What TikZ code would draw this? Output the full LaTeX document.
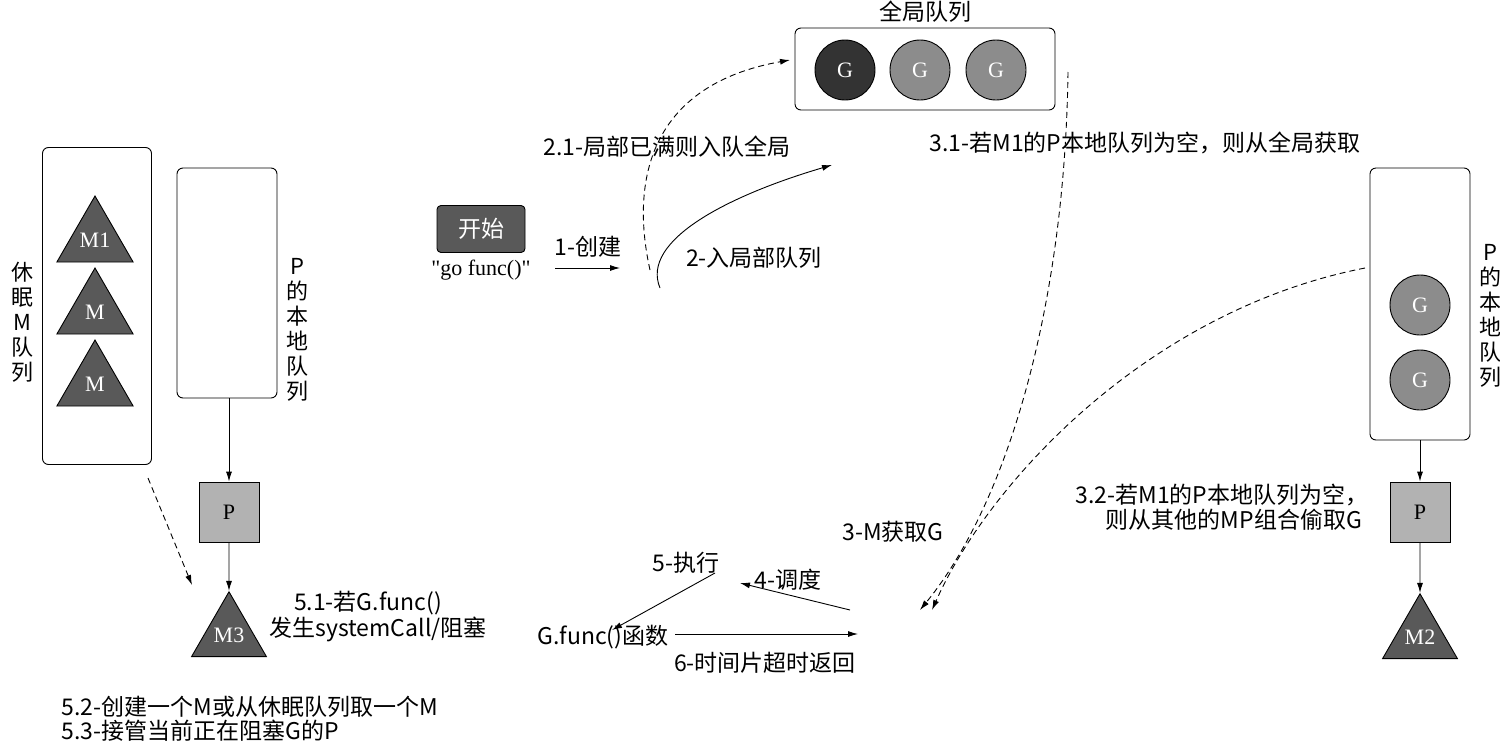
\documentclass[tikz,border=0pt]{standalone}
\usepackage{fontspec}
\setmainfont{Liberation Serif}
\newfontfamily\cjk{Noto Sans CJK SC}
\usetikzlibrary{shapes.geometric,arrows.meta}
\begin{document}
\begin{tikzpicture}[x=1pt,y=-1pt,
  every node/.style={font=\fontsize{22}{25}\selectfont},
  cj/.style={font=\fontsize{23}{25}\selectfont\cjk},
  vl/.style={font=\fontsize{22}{25}\selectfont\cjk,align=center,text width=22pt},
  box/.style={draw,rounded corners=6pt,line width=0.9pt},
  gc/.style={circle,draw,line width=0.9pt,fill=black!45,text=white,minimum size=60pt,inner sep=0pt},
  tri/.style={regular polygon,regular polygon sides=3,draw,line width=0.9pt,fill=black!65,minimum size=88pt,inner sep=0pt,text=white},
  psq/.style={draw,line width=0.9pt,fill=black!30,minimum size=60pt,inner sep=0pt},
  arr/.style={-{Latex[length=10pt,width=6pt]},line width=0.9pt},
  darr/.style={arr,dashed,dash pattern=on 6pt off 4pt}]
\useasboundingbox (0,0) rectangle (1500,753);
% global queue
\node[box,minimum width=260pt,minimum height=82pt] (gq) at (925,69) {};
\node[cj] (gql) at (925,12) {全局队列};
\node[gc,fill=black!80] (g1) at (845,70) {G};
\node[gc] (g2) at (920,70) {G};
\node[gc] (g3) at (996,70) {G};
% left sleeping M
\node[box,minimum width=109pt,minimum height=317pt] (mq) at (97,306) {};
\node[tri] (m1) at (95,240) {M1};
\node[tri] (m2) at (95,312) {M};
\node[tri] (m3) at (95,384) {M};
\node[vl] (mql) at (22,322) {休\\眠\\M\\队\\列};
% left P queue
\node[box,minimum width=100pt,minimum height=230pt] (pq) at (227,283) {};
\node[vl] (pql) at (297,330) {P\\的\\本\\地\\队\\列};
\node[psq] (p1) at (229,512) {P};
\node[tri,minimum size=80pt] (m3t) at (229,635) {M3};
\draw[arr] (pq.south -| p1) -- (p1);
\draw[arr] (p1) -- (m3t.north);
\draw[darr] (148,478) -- (192,585);
% start
\node[draw,rounded corners=4pt,fill=black!65,text=white,minimum width=88pt,minimum height=47pt,cj,line width=0.9pt] (st) at (481,229) {开始};
\node (gf) at (481,270) {\textquotedbl go func()\textquotedbl};
\coordinate (c1) at (555,268);
\coordinate (c2) at (620,268);
\draw[arr] (c1) -- (c2);
\node[cj] at (588,247) {1-创建};
\coordinate (s2) at (660,288);
\coordinate (e2) at (832,165);
\draw[arr] (s2) .. controls (640,240) and (730,195) .. (e2);
\node[cj] at (754,258) {2-入局部队列};
\coordinate (s21) at (650,270);
\draw[darr] (s21) .. controls (630,180) and (650,85) .. (790,60);
\node[cj] at (667,147) {2.1-局部已满则入队全局};
\node[cj] at (1145,143) {3.1-若M1的P本地队列为空，则从全局获取};
\coordinate (s31) at (1068,72);
\coordinate (e31) at (920,610);
\draw[darr] (s31) .. controls (1065,300) and (1010,500) .. (e31);
% right P queue
\node[box,minimum width=100pt,minimum height=272pt] (rq) at (1420,304) {};
\node[gc] (rg1) at (1420,305) {G};
\node[gc] (rg2) at (1420,380) {G};
\node[vl] (rql) at (1490,316) {P\\的\\本\\地\\队\\列};
\node[psq] (p2) at (1420,512) {P};
\node[tri,minimum size=82pt] (m2t) at (1420,637) {M2};
\draw[arr] (rq.south -| p2) -- (p2);
\draw[arr] (p2) -- (m2t.north);
\coordinate (s32) at (1365,268);
\coordinate (e32) at (932,610);
\draw[darr] (s32) .. controls (1150,310) and (990,480) .. (e32);
\node[cj] at (1222,495) {3.2-若M1的P本地队列为空，};
\node[cj] at (1234,520) {则从其他的MP组合偷取G};
% middle bottom
\node[cj] at (893,532) {3-M获取G};
\node[cj] at (788,580) {4-调度};
\coordinate (a4s) at (850,610);
\coordinate (a4e) at (740,583);
\draw[arr] (a4s) -- (a4e);
\node[cj] at (686,563) {5-执行};
\coordinate (a5s) at (715,573);
\coordinate (a5e) at (612,630);
\draw[arr] (a5s) -- (a5e);
\node[cj] (gfn) at (603,637) {G.func()函数};
\coordinate (a6s) at (675,634);
\coordinate (a6e) at (858,634);
\draw[arr] (a6s) -- (a6e);
\node[cj] at (765,663) {6-时间片超时返回};
\node[cj] at (368,603) {5.1-若G.func()};
\node[cj] at (378,629) {发生systemCall/阻塞};
\node[cj,anchor=west] at (58,707) {5.2-创建一个M或从休眠队列取一个M};
\node[cj,anchor=west] at (58,731) {5.3-接管当前正在阻塞G的P};
\end{tikzpicture}
\end{document}
